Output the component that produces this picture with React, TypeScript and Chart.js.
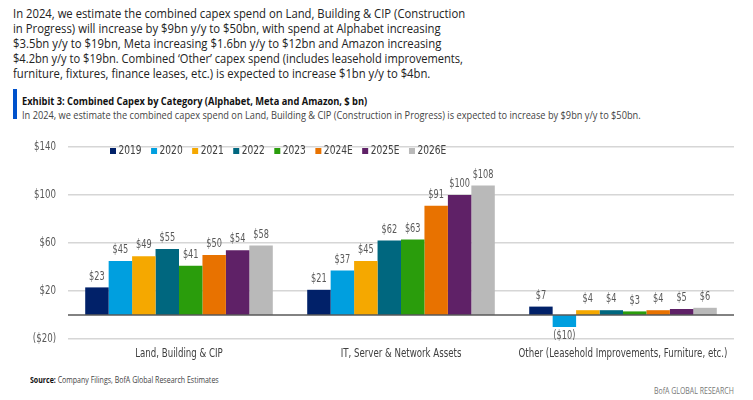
import React, { useEffect, useLayoutEffect, useRef } from "react";
import { Chart, registerables } from "chart.js";

Chart.register(...registerables);

const categories = [
  "Land, Building & CIP",
  "IT, Server & Network Assets",
  "Other (Leasehold Improvements, Furniture, etc.)",
];
const seriesLabels = ["2019", "2020", "2021", "2022", "2023", "2024E", "2025E", "2026E"];
const seriesColors = ["#012169", "#009FDF", "#F5A800", "#00677F", "#2A9D0C", "#E87200", "#5F2167", "#B9B9B9"];
const v2019 = [23, 21, 7];
const v2020 = [45, 37, -10];
const v2021 = [49, 45, 4];
const v2022 = [55, 62, 4];
const v2023 = [41, 63, 3];
const v2024E = [50, 91, 4];
const v2025E = [54, 100, 5];
const v2026E = [58, 108, 6];
const seriesValues = [v2019, v2020, v2021, v2022, v2023, v2024E, v2025E, v2026E];

const yMin = -20;
const yMax = 140;
const yStep = 40;

const paragraphLines = [
  "In 2024, we estimate the combined capex spend on Land, Building & CIP (Construction",
  "in Progress) will increase by $9bn y/y to $50bn, with spend at Alphabet increasing",
  "$3.5bn y/y to $19bn, Meta increasing $1.6bn y/y to $12bn and Amazon increasing",
  "$4.2bn y/y to $19bn. Combined \u2018Other\u2019 capex spend (includes leasehold improvements,",
  "furniture, fixtures, finance leases, etc.) is expected to increase $1bn y/y to $4bn.",
];
const paragraphWidths = [452, 428, 428, 450, 417];
const titleText = "Exhibit 3: Combined Capex by Category (Alphabet, Meta and Amazon, $ bn)";
const subtitleText =
  "In 2024, we estimate the combined capex spend on Land, Building & CIP (Construction in Progress) is expected to increase by $9bn y/y to $50bn.";
const sourceLabel = "Source:";
const sourceText = " Company Filings, BofA Global Research Estimates";
const brandText = "BofA GLOBAL RESEARCH";

const NARROW = "'Liberation Sans Narrow', 'DejaVu Sans Condensed', 'Arial Narrow', sans-serif";
const HUMANIST = "'Open Sans', 'Noto Sans', sans-serif";
const K = 0.8; // horizontal condensing of canvas text

const fmt = (v: number) => (v < 0 ? `($${-v})` : `$${v}`);

function drawText(ctx: any, text: string, x: number, y: number, align: string, baseline: string, k = K) {
  ctx.save();
  ctx.translate(x, y);
  ctx.scale(k, 1);
  ctx.textAlign = align;
  ctx.textBaseline = baseline;
  ctx.fillText(text, 0, 0);
  ctx.restore();
}

const legendPlugin = {
  id: "customLegend",
  afterDraw(chart: any) {
    const ctx = chart.ctx;
    const kl = 0.84;
    ctx.save();
    ctx.font = `12px ${NARROW}`;
    let x = 110;
    const y = 16;
    chart.data.datasets.forEach((ds: any) => {
      ctx.fillStyle = ds.backgroundColor;
      ctx.fillRect(x, y - 3, 6, 6);
      ctx.fillStyle = "#404040";
      drawText(ctx, ds.label, x + 8.5, y, "left", "middle", kl);
      x += 8.5 + ctx.measureText(ds.label).width * kl + 9.5;
    });
    ctx.restore();
  },
};

const axisLabelPlugin = {
  id: "axisLabels",
  afterDraw(chart: any) {
    const ctx = chart.ctx;
    const ys = chart.scales.y;
    const xs = chart.scales.x;
    ctx.save();
    ctx.font = `12px ${NARROW}`;
    ctx.fillStyle = "#595959";
    ys.ticks.forEach((t: any) => {
      drawText(ctx, fmt(t.value), chart.chartArea.left - 12, ys.getPixelForValue(t.value), "right", "middle");
    });
    ctx.fillStyle = "#404040";
    chart.data.labels.forEach((lab: string, i: number) => {
      drawText(ctx, lab, xs.getPixelForTick(i), chart.chartArea.bottom + 15, "center", "middle");
    });
    ctx.restore();
  },
};

const zeroLinePlugin = {
  id: "zeroLine",
  afterDatasetsDraw(chart: any) {
    const ctx = chart.ctx;
    const y = chart.scales.y.getPixelForValue(0);
    ctx.save();
    ctx.strokeStyle = "#595959";
    ctx.lineWidth = 1.5;
    ctx.beginPath();
    ctx.moveTo(chart.chartArea.left, y);
    ctx.lineTo(chart.chartArea.right, y);
    ctx.stroke();
    ctx.restore();
  },
};

const dataLabelPlugin = {
  id: "dataLabels",
  afterDatasetsDraw(chart: any) {
    const ctx = chart.ctx;
    ctx.save();
    ctx.font = `12px ${NARROW}`;
    ctx.fillStyle = "#595959";
    chart.data.datasets.forEach((ds: any, i: number) => {
      const meta = chart.getDatasetMeta(i);
      meta.data.forEach((bar: any, j: number) => {
        const v = ds.data[j];
        if (v >= 0) drawText(ctx, fmt(v), bar.x, bar.y - 5, "center", "bottom", 0.76);
        else drawText(ctx, fmt(v), bar.x, bar.y + 3, "center", "top", 0.76);
      });
    });
    ctx.restore();
  },
};

function FitText(props: {
  top: number;
  left?: number;
  right?: number;
  width: number;
  style: any;
  children: any;
}) {
  const ref = useRef<HTMLSpanElement>(null);
  useLayoutEffect(() => {
    const el = ref.current!;
    const w = el.offsetWidth;
    if (w > 0) el.style.transform = `scaleX(${props.width / w})`;
  });
  const pos: any = { position: "absolute", top: props.top, whiteSpace: "nowrap" };
  if (props.right !== undefined) pos.right = props.right;
  else pos.left = props.left;
  return (
    <div style={pos}>
      <span
        ref={ref}
        style={{
          display: "inline-block",
          transformOrigin: props.right !== undefined ? "right center" : "left center",
          ...props.style,
        }}
      >
        {props.children}
      </span>
    </div>
  );
}

export default function App() {
  const ref = useRef<HTMLCanvasElement>(null);
  useEffect(() => {
    document.body.style.margin = "0";
    const chart = new Chart(ref.current!, {
      type: "bar",
      data: {
        labels: categories,
        datasets: seriesLabels.map((label, i) => ({
          label,
          data: seriesValues[i],
          backgroundColor: seriesColors[i],
          borderWidth: 0,
          categoryPercentage: 0.845,
          barPercentage: 1,
        })),
      },
      options: {
        animation: false,
        responsive: false,
        devicePixelRatio: 1,
        layout: { padding: { top: 12, right: 19, bottom: 2, left: 0 } },
        plugins: { legend: { display: false }, tooltip: { enabled: false } },
        scales: {
          x: {
            grid: { display: false, drawTicks: false },
            border: { display: false },
            ticks: { display: false, autoSkip: false },
            afterFit: (s: any) => {
              s.height = 24;
            },
          },
          y: {
            min: yMin,
            max: yMax,
            grid: { color: "#D6D6D6", lineWidth: 1.5, drawTicks: false },
            border: { display: false },
            ticks: { display: false, stepSize: yStep },
            afterFit: (s: any) => {
              s.width = 68;
            },
          },
        },
      },
      plugins: [legendPlugin, zeroLinePlugin, dataLabelPlugin, axisLabelPlugin],
    });
    return () => chart.destroy();
  }, []);

  return (
    <div style={{ position: "relative", width: 753, height: 400, background: "#fff", overflow: "hidden", fontFamily: HUMANIST }}>
      {paragraphLines.map((line, i) => (
        <FitText
          key={i}
          top={0.5 + i * 15.2}
          left={13}
          width={paragraphWidths[i]}
          style={{ fontSize: 12, lineHeight: "16px", color: "#222" }}
        >
          {line}
        </FitText>
      ))}
      <div style={{ position: "absolute", top: 89, left: 13, width: 4, height: 30, background: "#0052CC" }} />
      <FitText top={88} left={22} width={345} style={{ fontSize: 10, lineHeight: "14px", fontWeight: "bold", color: "#111" }}>
        {titleText}
      </FitText>
      <FitText top={101.5} left={22} width={619} style={{ fontSize: 10, lineHeight: "14px", color: "#444" }}>
        {subtitleText}
      </FitText>
      <canvas ref={ref} width={753} height={230} style={{ position: "absolute", top: 135, left: 0 }} />
      <FitText top={366} left={30} width={189} style={{ fontSize: 9, lineHeight: "12px", color: "#444" }}>
        <b style={{ color: "#111" }}>{sourceLabel}</b>
        {sourceText}
      </FitText>
      <FitText top={377} right={19} width={80} style={{ fontSize: 9.5, lineHeight: "12px", color: "#777" }}>
        {brandText}
      </FitText>
    </div>
  );
}
